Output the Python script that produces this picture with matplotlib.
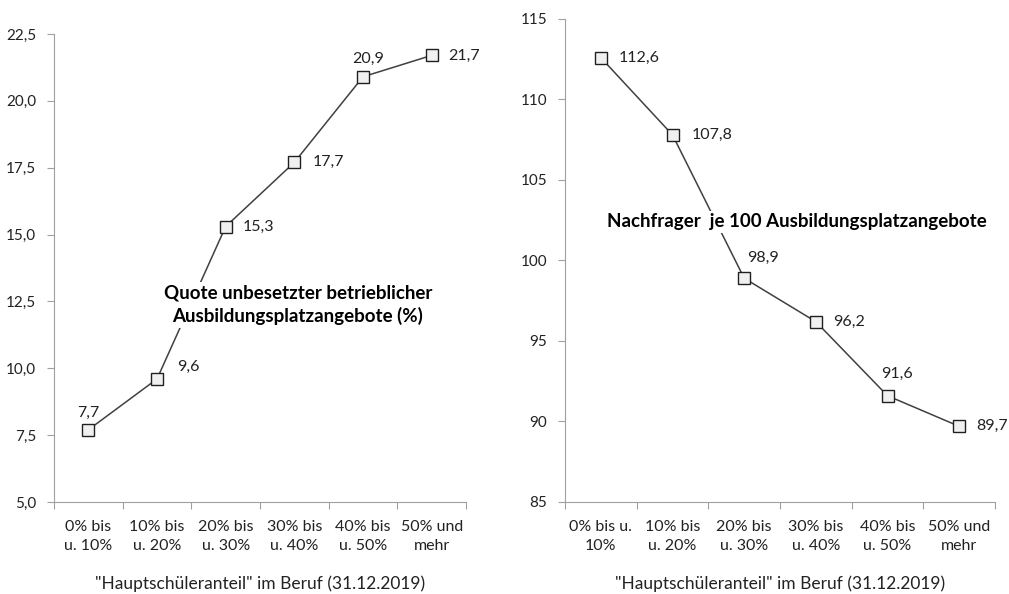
import numpy as np
import matplotlib
matplotlib.use('Agg')
import matplotlib.pyplot as plt

plt.rcParams['font.family'] = ['Lato', 'DejaVu Sans']

categories_left = ["0% bis\nu. 10%", "10% bis\nu. 20%", "20% bis\nu. 30%",
                   "30% bis\nu. 40%", "40% bis\nu. 50%", "50% und\nmehr"]
categories_right = ["0% bis u.\n10%", "10% bis\nu. 20%", "20% bis\nu. 30%",
                    "30% bis\nu. 40%", "40% bis\nu. 50%", "50% und\nmehr"]
quote = [7.7, 9.6, 15.3, 17.7, 20.9, 21.7]
nachfrager = [112.6, 107.8, 98.9, 96.2, 91.6, 89.7]
xlabel = '"Hauptschüleranteil" im Beruf (31.12.2019)'

# label placement: (dx, dy, ha) in pixels
pos_left = [(0, 17, 'center'), (20, 12, 'left'), (17, 0, 'left'),
            (18, 0, 'left'), (5, 18, 'center'), (17, 0, 'left')]
pos_right = [(18, 0, 'left'), (19, 0, 'left'), (19, 20, 'center'),
             (17, 0, 'left'), (10, 22, 'center'), (17, 0, 'left')]

AXC = '#a0a0a0'
TXT = '#222222'


def fmt(v):
    return ('%.1f' % v).replace('.', ',')


def panel(ax, cats, vals, pos, ylim, yticks, ylabels, title, tpos):
    x = np.arange(len(vals))
    ax.plot(x, vals, color='#404040', lw=1.1, marker='s', markersize=8.5,
            markerfacecolor='#f0f0f0', markeredgecolor='#202020',
            markeredgewidth=1.0, zorder=3)
    for xi, v, (dx, dy, ha) in zip(x, vals, pos):
        ax.annotate(fmt(v), (xi, v), xytext=(dx, dy), textcoords='offset pixels',
                    ha=ha, va='center', fontsize=11.5, color=TXT)
    ax.set_xlim(-0.5, len(vals) - 0.5)
    ax.set_ylim(*ylim)
    ax.set_yticks(yticks)
    ax.set_yticklabels(ylabels)
    ax.set_xticks(np.arange(-0.5, len(vals)), labels=[''] * (len(vals) + 1))
    ax.set_xticks(x, labels=cats, minor=True)
    for lbl in ax.get_xticklabels(minor=True):
        lbl.set_linespacing(1.45)
    ax.tick_params(axis='x', which='major', length=5, color=AXC, direction='out')
    ax.tick_params(axis='x', which='minor', length=0, pad=13, labelsize=11.5,
                   labelcolor=TXT)
    ax.tick_params(axis='y', length=5, color=AXC, labelsize=11, labelcolor=TXT,
                   pad=8)
    for s in ['top', 'right']:
        ax.spines[s].set_visible(False)
    for s in ['left', 'bottom']:
        ax.spines[s].set_color(AXC)
    ax.set_xlabel(xlabel, fontsize=12.5, color=TXT, labelpad=16)
    ax.text(tpos[0], tpos[1], title, transform=ax.transAxes, ha='center',
            va='center', fontsize=13.5, fontweight='bold', color='black',
            linespacing=1.35, zorder=5,
            bbox=dict(facecolor='white', edgecolor='none', pad=2))


fig = plt.figure(figsize=(10.09, 5.94), dpi=100)
ax1 = fig.add_axes([54 / 1009, 92 / 594, 412 / 1009, 468 / 594])
ax2 = fig.add_axes([565 / 1009, 92 / 594, 430 / 1009, 483 / 594])

yt1 = np.arange(5, 22.6, 2.5)
panel(ax1, categories_left, quote, pos_left, (5, 22.5), yt1,
      [fmt(v) for v in yt1],
      "Quote unbesetzter betrieblicher\nAusbildungsplatzangebote (%)",
      (0.592, 0.421))
yt2 = np.arange(85, 116, 5)
panel(ax2, categories_right, nachfrager, pos_right, (85, 115), yt2,
      [str(v) for v in yt2],
      "Nachfrager  je 100 Ausbildungsplatzangebote", (0.54, 0.58))

fig.savefig('out.png', dpi=100)
